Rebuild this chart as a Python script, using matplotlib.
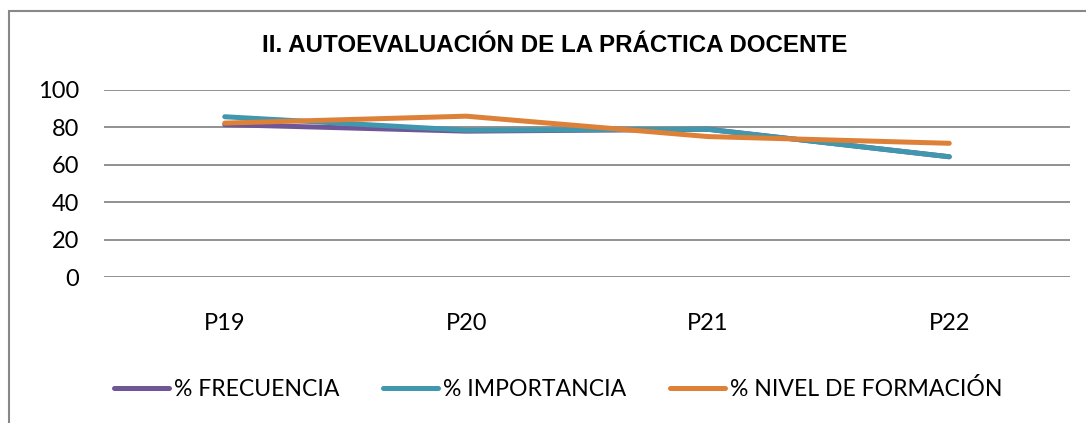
import matplotlib.pyplot as plt
from matplotlib.patches import Rectangle

preguntas = ['P19', 'P20', 'P21', 'P22']
frecuencia = [81.5, 78, 79, 64.3]
importancia = [85.7, 78.5, 79, 64.3]
nivel_formacion = [82.3, 86, 75.1, 71.5]

fig = plt.figure(figsize=(10.86, 4.23), dpi=100)
ax = fig.add_axes([104/1086, 1 - 277/423, 966/1086, 187/423])

x = range(len(preguntas))
ax.plot(x, frecuencia, color='#6E5697', lw=3.6, solid_capstyle='round', label='% FRECUENCIA', zorder=3)
ax.plot(x, importancia, color='#4097AE', lw=3.6, solid_capstyle='round', label='% IMPORTANCIA', zorder=4)
ax.plot(x, nivel_formacion, color='#DD8139', lw=3.6, solid_capstyle='round', label='% NIVEL DE FORMACIÓN', zorder=5)

ax.set_xlim(-0.5, 3.5)
ax.set_ylim(0, 100)
ax.set_yticks(range(0, 101, 20))
ax.set_xticks(list(x))
ax.set_xticklabels(preguntas)
ax.grid(axis='y', color='#888888', lw=1.3)
ax.set_axisbelow(True)
for s in ax.spines.values():
    s.set_visible(False)
ax.tick_params(length=0, labelsize=17)
ax.tick_params(axis='y', pad=18)
ax.tick_params(axis='x', pad=26)
for t in ax.get_xticklabels() + ax.get_yticklabels():
    t.set_fontfamily('Lato')

fig.text(555/1086, 1 - 45/423, 'II. AUTOEVALUACIÓN DE LA PRÁCTICA DOCENTE',
         ha='center', va='center', fontsize=17.4, fontweight='bold', family='Liberation Sans')

leg = fig.legend(loc='center', bbox_to_anchor=(558/1086, 1 - 389/423), ncol=3, frameon=False,
                 handlelength=2.4, handletextpad=0.2, columnspacing=1.9,
                 prop={'family': 'Lato', 'size': 16.6})

# marco del grafico
fig.patches.append(Rectangle((9/1086, -0.1), 1.2, 1 - 11/423 + 0.1, transform=fig.transFigure,
                             fill=False, edgecolor='#888888', lw=1.5))

fig.savefig('out.png', dpi=100)
